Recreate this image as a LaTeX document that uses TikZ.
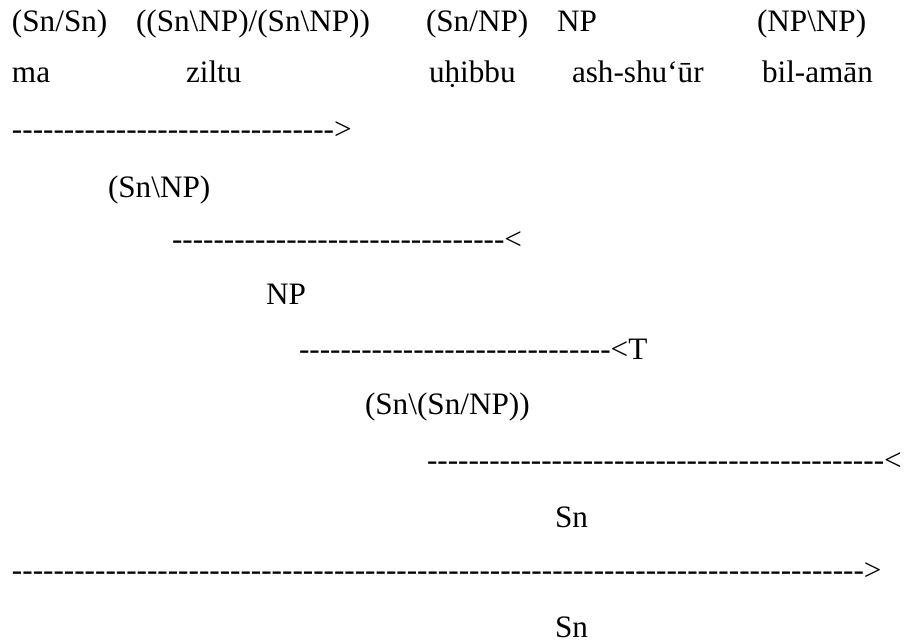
\documentclass[tikz,border=0pt]{standalone}
\usepackage{fontspec}
\setmainfont{Liberation Serif}
% a run of separate hyphens (the kern keeps "--" from turning into a dash)
\ExplSyntaxOn
\NewDocumentCommand\dashrun{m}{\prg_replicate:nn{#1}{-\kern0pt}}
\ExplSyntaxOff
\begin{document}
\begin{tikzpicture}[x=1pt,y=-1pt,
  lbl/.style={anchor=base west, inner sep=0pt, outer sep=0pt,
              font=\fontsize{31.2pt}{36pt}\selectfont}]
\useasboundingbox (0,0) rectangle (904,642);

% categories
\node[lbl] (cat1) at (12,32)  {(Sn/Sn)};
\node[lbl] (cat2) at (136,32) {((Sn\textbackslash NP)/(Sn\textbackslash NP))};
\node[lbl] (cat3) at (426,32) {(Sn/NP)};
\node[lbl] (cat4) at (557,32) {NP};
\node[lbl] (cat5) at (757,32) {(NP\textbackslash NP)};

% words
\node[lbl] (w1) at (12,82)  {ma};
\node[lbl] (w2) at (186,82) {ziltu};
\node[lbl] (w3) at (429,82) {uḥibbu};
\node[lbl] (w4) at (572,82) {ash-shu‘ūr};
\node[lbl] (w5) at (762,82) {bil-amān};

% derivation steps
\node[lbl] (d1) at (12,139)  {\dashrun{31}>};
\node[lbl] (r1) at (108,197) {(Sn\textbackslash NP)};
\node[lbl] (d2) at (172,249) {\dashrun{32}<};
\node[lbl] (r2) at (266,304) {NP};
\node[lbl] (d3) at (299,359) {\dashrun{30}<T};
\node[lbl] (r3) at (365,414) {(Sn\textbackslash(Sn/NP))};
\node[lbl] (d4) at (427,470) {\dashrun{44}<};
\node[lbl] (r4) at (555,527) {Sn};
\node[lbl] (d5) at (12,580)  {\dashrun{82}>};
\node[lbl] (r5) at (555,637) {Sn};
\end{tikzpicture}
\end{document}
